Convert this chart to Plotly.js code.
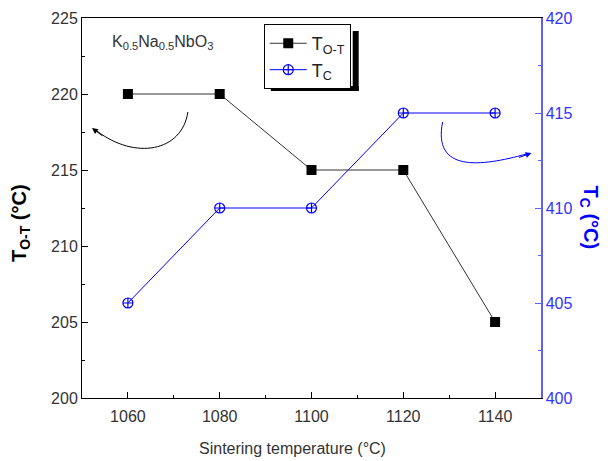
<!DOCTYPE html>
<html>
<head>
<meta charset="utf-8">
<script src="https://cdn.plot.ly/plotly-3.0.1.min.js"></script>
<style>html,body{margin:0;padding:0;background:#fff}#plot{width:611px;height:461px}</style>
</head>
<body>
<div id="plot"></div>
<script>
const temps = [1060, 1080, 1100, 1120, 1140];
const tOT = [220, 220, 215, 215, 205];
const tC = [405, 410, 410, 415, 415];
const xTicks = [1060, 1080, 1100, 1120, 1140];
const yTicks = [200, 205, 210, 215, 220, 225];
const y2Ticks = [400, 405, 410, 415, 420];

const FONT = 'Liberation Sans, Arial, sans-serif';
const BLUE = '#0000ff';
const AXBLUE = '#6060ff';

const traces = [
  {
    x: temps, y: tOT, name: 'T<sub>O-T</sub>', type: 'scatter', mode: 'lines+markers',
    line: {color: '#333333', width: 1},
    marker: {symbol: 'square', size: 10, color: '#000000'},
    yaxis: 'y'
  },
  {
    x: temps, y: tC, name: 'T<sub>C</sub>', type: 'scatter', mode: 'lines+markers',
    line: {color: BLUE, width: 1},
    marker: {symbol: 'circle-cross-open', size: 10, color: BLUE, line: {width: 1.2, color: BLUE}},
    yaxis: 'y2'
  }
];

const layout = {
  width: 611, height: 461,
  margin: {l: 82, r: 70, t: 18, b: 63},
  paper_bgcolor: '#ffffff', plot_bgcolor: '#ffffff',
  font: {family: FONT, size: 16, color: '#333333'},
  showlegend: true,
  legend: {
    x: 0.396, y: 0.984, xanchor: 'left', yanchor: 'top',
    bgcolor: '#ffffff', bordercolor: '#000000', borderwidth: 1,
    font: {family: FONT, size: 18, color: '#222222'},
    itemwidth: 37, tracegroupgap: 0
  },
  xaxis: {
    range: [1050, 1150], tickvals: xTicks, ticktext: xTicks.map(String),
    ticks: 'inside', ticklen: 6, tickcolor: '#000', tickwidth: 1,
    showline: true, linecolor: '#000000', linewidth: 1, mirror: true,
    showgrid: false, zeroline: false, ticklabelstandoff: 4,
    minor: {dtick: 10, ticks: 'inside', ticklen: 3, tickcolor: '#000'},
    tickfont: {family: FONT, size: 16, color: '#333333'}
  },
  yaxis: {
    range: [200, 225], tickvals: yTicks, ticktext: yTicks.map(String),
    ticks: 'inside', ticklen: 6, tickcolor: '#000', tickwidth: 1,
    showline: true, linecolor: '#000000', linewidth: 1,
    showgrid: false, zeroline: false,
    minor: {dtick: 2.5, ticks: 'inside', ticklen: 3, tickcolor: '#000'},
    tickfont: {family: FONT, size: 16, color: '#333333'}
  },
  yaxis2: {
    range: [400, 420], tickvals: y2Ticks, ticktext: y2Ticks.map(String),
    overlaying: 'y', side: 'right',
    ticks: 'inside', ticklen: 6, tickcolor: AXBLUE, tickwidth: 1,
    showline: true, linecolor: AXBLUE, linewidth: 1.5,
    showgrid: false, zeroline: false,
    minor: {dtick: 2.5, ticks: 'inside', ticklen: 3, tickcolor: AXBLUE},
    tickfont: {family: FONT, size: 16, color: '#3333ff'}
  },
  annotations: [
    {xref: 'paper', yref: 'paper', x: (293-82)/459.5, y: (398-448)/380, xanchor: 'center', yanchor: 'middle',
     text: 'Sintering temperature (°C)', showarrow: false,
     font: {family: FONT, size: 16, color: '#333333'}},
    {xref: 'paper', yref: 'paper', x: (20-82)/459.5, y: (398-223)/380, xanchor: 'center', yanchor: 'middle',
     text: '<b>T<sub>O-T</sub> (°C)</b>', textangle: -90, showarrow: false,
     font: {family: FONT, size: 20, color: '#000000'}},
    {xref: 'paper', yref: 'paper', x: (591-82)/459.5, y: (398-218)/380, xanchor: 'center', yanchor: 'middle',
     text: '<b>T<sub>C</sub> (°C)</b>', textangle: 90, showarrow: false,
     font: {family: FONT, size: 20, color: BLUE}},
    {xref: 'paper', yref: 'paper', x: 0.06, y: 0.935, xanchor: 'left', yanchor: 'middle',
     text: 'K<sub>0.5</sub>Na<sub>0.5</sub>NbO<sub>3</sub>', showarrow: false,
     font: {family: FONT, size: 16, color: '#333333'}},
    // arrowheads
    {xref: 'paper', yref: 'paper', x: (92-82)/459.5, y: (398-128)/380, ax: 12, ay: 9,
     axref: 'pixel', ayref: 'pixel', text: '', showarrow: true, arrowhead: 2, arrowsize: 1.2, arrowwidth: 1, arrowcolor: '#000000'},
    {xref: 'paper', yref: 'paper', x: (532-82)/459.5, y: (398-153)/380, ax: -14, ay: 5,
     axref: 'pixel', ayref: 'pixel', text: '', showarrow: true, arrowhead: 2, arrowsize: 1.2, arrowwidth: 1, arrowcolor: BLUE}
  ],
  shapes: [
    // legend shadow
    {type: 'rect', xref: 'paper', yref: 'paper', x0: (353-82)/459.5, x1: (359-82)/459.5, y0: (398-91)/380, y1: (398-31)/380,
     fillcolor: '#000000', line: {width: 0}, layer: 'below'},
    {type: 'rect', xref: 'paper', yref: 'paper', x0: (271-82)/459.5, x1: (359-82)/459.5, y0: (398-91)/380, y1: (398-86)/380,
     fillcolor: '#000000', line: {width: 0}, layer: 'below'},
    // curved arrows
    {type: 'path', xref: 'paper', yref: 'paper',
     path: pathPx([[188,112],[182,152],[135,160],[97,131]]),
     line: {color: '#000000', width: 1}},
    {type: 'path', xref: 'paper', yref: 'paper',
     path: pathPx([[443,122],[433,172],[480,167],[527,154]]),
     line: {color: BLUE, width: 1}}
  ]
};

function pathPx(pts) {
  const c = pts.map(p => [((p[0]-82)/459.5).toFixed(4), ((398-p[1])/380).toFixed(4)]);
  return 'M' + c[0].join(',') + ' C' + c[1].join(',') + ' ' + c[2].join(',') + ' ' + c[3].join(',');
}

Plotly.newPlot('plot', traces, layout, {displayModeBar: false, staticPlot: true});
</script>
</body>
</html>
